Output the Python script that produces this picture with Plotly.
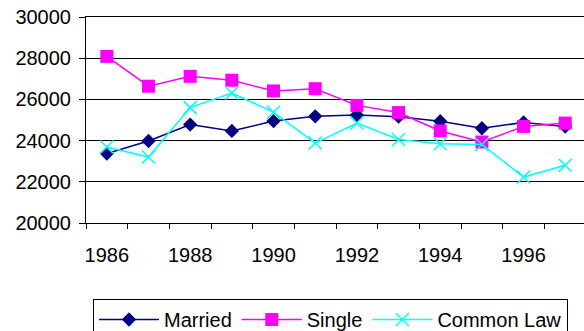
import plotly.graph_objects as go

years = [1986, 1987, 1988, 1989, 1990, 1991, 1992, 1993, 1994, 1995, 1996, 1997]
married = [23370, 23980, 24780, 24470, 24950, 25180, 25240, 25160, 24940, 24600, 24880, 24680]
single = [28090, 26640, 27120, 26930, 26410, 26520, 25710, 25360, 24470, 23930, 24690, 24850]
common_law = [23690, 23200, 25600, 26310, 25380, 23880, 24850, 24050, 23850, 23810, 22230, 22800]
x_tick_labels = ["1986", "1988", "1990", "1992", "1994", "1996"]
y_ticks = [20000, 22000, 24000, 26000, 28000, 30000]
y_tick_labels = ["20000", "22000", "24000", "26000", "28000", "30000"]

FONT = "Liberation Sans, Arial, sans-serif"

fig = go.Figure()
fig.add_trace(go.Scatter(
    x=years, y=married, name="Married", mode="lines+markers",
    line=dict(color="#000080", width=1.5),
    marker=dict(symbol="diamond", size=11, color="#000080"),
))
fig.add_trace(go.Scatter(
    x=years, y=single, name="Single", mode="lines+markers",
    line=dict(color="#FF00FF", width=1.5),
    marker=dict(symbol="square", size=13, color="#FF00FF"),
))
fig.add_trace(go.Scatter(
    x=years, y=common_law, name="Common Law", mode="lines+markers",
    line=dict(color="#00FFFF", width=1.5),
    marker=dict(symbol="x-thin-open", size=13, color="#00FFFF",
                line=dict(color="#00FFFF", width=1.5)),
))

boundaries = [y - 0.5 for y in years]

fig.update_layout(
    width=584, height=331,
    margin=dict(l=86, r=0, t=17, b=108, pad=0, autoexpand=False),
    paper_bgcolor="white", plot_bgcolor="white",
    font=dict(family=FONT, size=20, color="black"),
    showlegend=True,
    legend=dict(
        orientation="h", x=0.014, xanchor="left", y=-0.369, yanchor="top",
        bordercolor="black", borderwidth=1, bgcolor="white",
        font=dict(family=FONT, size=20, color="black"),
        itemwidth=60, tracegroupgap=0,
    ),
    xaxis=dict(
        range=[years[0] - 0.5, years[-1] + 0.45],
        tickmode="array",
        tickvals=[int(t) for t in x_tick_labels],
        ticktext=x_tick_labels,
        ticks="", showgrid=False, zeroline=False, automargin=False,
        showline=True, mirror=True, linecolor="black", linewidth=1,
        ticklabelstandoff=14,
        minor=dict(tickmode="array", tickvals=boundaries, ticks="outside",
                   ticklen=5, tickcolor="black", tickwidth=1, showgrid=False),
    ),
    yaxis=dict(
        range=[20000, 30000], automargin=False,
        tickmode="array", tickvals=y_ticks, ticktext=y_tick_labels,
        ticks="outside", ticklen=6, tickcolor="black", tickwidth=1,
        showgrid=True, gridcolor="black", gridwidth=1,
        zeroline=False, showline=True, linecolor="black", linewidth=1,
        ticklabelstandoff=4, ticklabeloverflow="allow",
    ),
)

fig.write_html("out.html",
               config={"displayModeBar": False},
               post_script="document.body.style.margin='0px';document.body.style.overflow='hidden';")
